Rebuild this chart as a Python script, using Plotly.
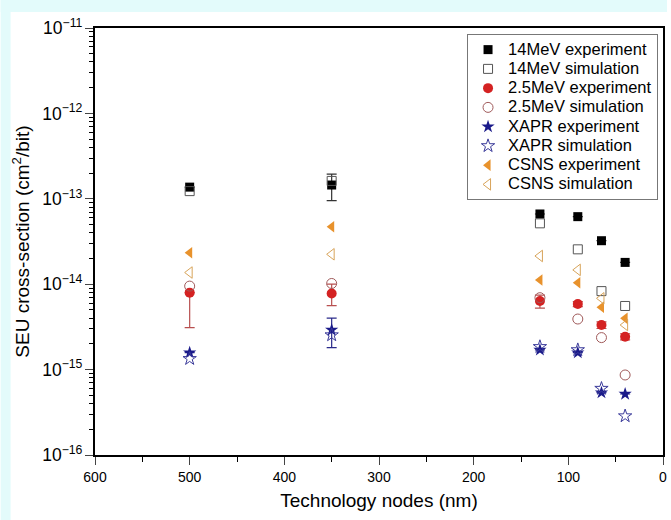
import plotly.graph_objects as go

nodes = [500, 350, 130, 90, 65, 40]

mev14_exp = [1.37e-13, 1.45e-13, 6.64e-14, 6.18e-14, 3.23e-14, 1.80e-14]
mev14_sim = [1.23e-13, 1.62e-13, 5.16e-14, 2.56e-14, 8.3e-15, 5.56e-15]
mev14_err = [0, 0.5e-13, 0, 0, 0, 0]

mev25_exp = [7.96e-15, 7.8e-15, 6.36e-15, 5.86e-15, 3.33e-15, 2.43e-15]
mev25_sim = [9.5e-15, 1.02e-14, 6.95e-15, 3.91e-15, 2.37e-15, 8.65e-16]
mev25_err_plus = [0, 2.2e-15, 1.1e-15, 0.4e-15, 0.3e-15, 0.2e-15]
mev25_err_minus = [4.86e-15, 2.2e-15, 1.1e-15, 0.4e-15, 0.3e-15, 0.2e-15]

xapr_exp = [1.58e-15, 2.91e-15, 1.70e-15, 1.58e-15, 5.37e-16, 5.18e-16]
xapr_sim = [1.34e-15, 2.54e-15, 1.85e-15, 1.70e-15, 6.0e-16, 2.86e-16]
xapr_err = [0, 1.1e-15, 0, 0, 0, 0]

csns_exp = [2.34e-14, 4.71e-14, 1.12e-14, 1.04e-14, 5.37e-15, 3.98e-15]
csns_sim = [1.37e-14, 2.24e-14, 2.14e-14, 1.47e-14, 6.83e-15, 3.33e-15]

W, H = 671, 520
ML, MR, MT, MB = 95, 4, 28, 65
PW, PH = W - ML - MR, H - MT - MB

fig = go.Figure()

def label(t):
    return '<span style="font-size:16.5px">' + t + '</span>'

def add(name, y, symbol, color, size=10, err=None, open_=False):
    if open_:
        marker = dict(symbol=symbol, size=size, color=color, line=dict(color=color, width=1))
    else:
        marker = dict(symbol=symbol, size=size, color=color, line=dict(width=0))
    tr = go.Scatter(x=nodes, y=y, mode='markers', name=label(name), marker=marker)
    if err is not None:
        tr.error_y = err
    fig.add_trace(tr)

add('14MeV experiment', mev14_exp, 'square', '#000000', 9,
    err=dict(type='data', array=mev14_err, visible=True, color='#333333', thickness=1.2, width=5))
add('14MeV simulation', mev14_sim, 'square-open', '#555555', 9, open_=True)
add('2.5MeV experiment', mev25_exp, 'circle', '#d42222', 10,
    err=dict(type='data', symmetric=False, array=mev25_err_plus, arrayminus=mev25_err_minus,
             visible=True, color='#b85050', thickness=1.2, width=5))
add('2.5MeV simulation', mev25_sim, 'circle-open', '#a05a5a', 10, open_=True)
add('XAPR experiment', xapr_exp, 'star', '#1a1a8a', 10,
    err=dict(type='data', array=xapr_err, visible=True, color='#2a2a8a', thickness=1.2, width=5))
add('XAPR simulation', xapr_sim, 'star-open', '#3a3a9a', 10, open_=True)
add('CSNS experiment', csns_exp, 'triangle-left', '#e8922c', 10)
add('CSNS simulation', csns_sim, 'triangle-left-open', '#d8a45a', 10, open_=True)

def px_x(p):
    return (p - ML) / PW

def px_y(p):
    return (H - MB - p) / PH

cyan = '#e3fbfb'
shapes = [
    dict(type='rect', xref='paper', yref='paper', x0=px_x(0), x1=px_x(10), y0=px_y(H), y1=px_y(0),
         fillcolor=cyan, line=dict(width=0), layer='below'),
    dict(type='rect', xref='paper', yref='paper', x0=px_x(0), x1=px_x(W), y0=px_y(12), y1=px_y(0),
         fillcolor=cyan, line=dict(width=0), layer='below'),
]

font = 'Liberation Sans, Arial, sans-serif'
fig.update_layout(
    width=W, height=H,
    margin=dict(l=ML, r=MR, t=MT, b=MB),
    paper_bgcolor='white', plot_bgcolor='white',
    font=dict(family=font, color='black', size=14),
    shapes=shapes,
    showlegend=True,
    legend=dict(x=px_x(662), y=px_y(34), xanchor='right', yanchor='top',
                bgcolor='white', bordercolor='#777777', borderwidth=1,
                font=dict(size=12.5, family=font), tracegroupgap=0,
                itemwidth=30),
    xaxis=dict(range=[600, 0], dtick=100, tick0=0, ticks='outside', ticklen=8, tickwidth=1.2,
               showline=True, linecolor='black', linewidth=1.5, mirror=True,
               showgrid=False, zeroline=False,
               minor=dict(dtick=50, ticks='outside', ticklen=5, tickwidth=1.2, tickcolor='black', showgrid=False),
               title=dict(text='Technology nodes (nm)', font=dict(size=19), standoff=10),
               tickfont=dict(size=14)),
    yaxis=dict(type='log', range=[-16, -11], dtick=1, exponentformat='power', showexponent='all',
               ticks='outside', ticklen=8, tickwidth=1.2,
               showline=True, linecolor='black', linewidth=1.5, mirror=True,
               showgrid=False, zeroline=False,
               minor=dict(dtick='D1', ticks='outside', ticklen=4, tickwidth=1, tickcolor='black', showgrid=False),
               title=dict(text='SEU cross-section (cm<sup>2</sup>/bit)', font=dict(size=19), standoff=8),
               tickfont=dict(size=14)),
)

fig.write_html('out.html')
